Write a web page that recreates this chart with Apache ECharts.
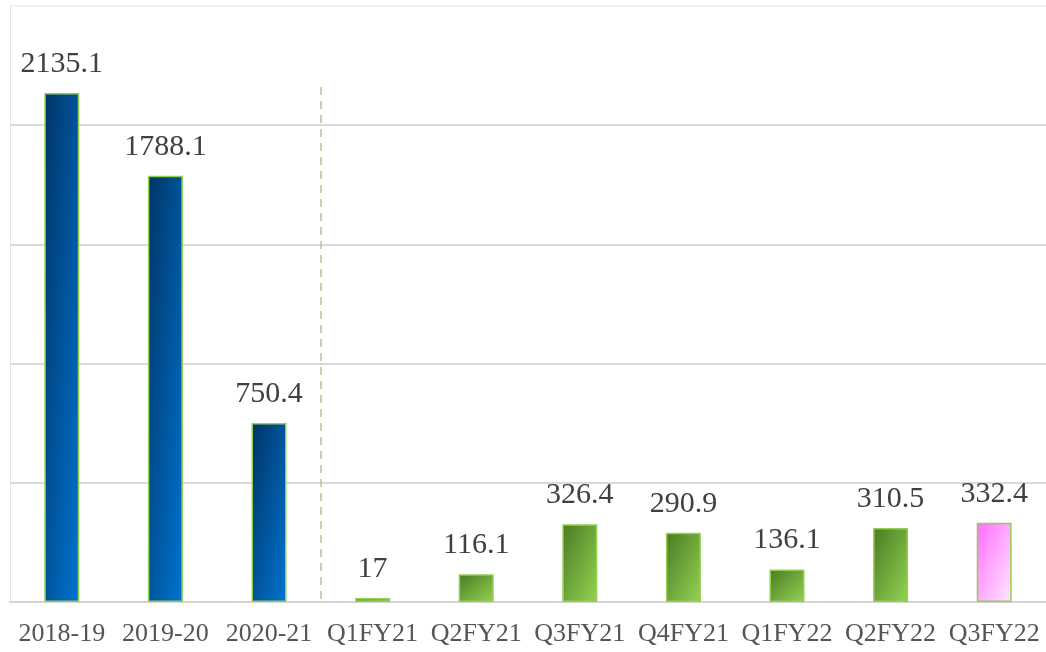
<!DOCTYPE html>
<html>
<head>
<meta charset="utf-8">
<script src="https://cdn.jsdelivr.net/npm/echarts@6/dist/echarts.min.js"></script>
<style>
  html, body { margin: 0; padding: 0; background: #fff; }
  #chart { width: 1046px; height: 652px; }
</style>
</head>
<body>
<div id="chart"></div>
<script>
var categories = ['2018-19', '2019-20', '2020-21', 'Q1FY21', 'Q2FY21', 'Q3FY21', 'Q4FY21', 'Q1FY22', 'Q2FY22', 'Q3FY22'];
var values = [2135.1, 1788.1, 750.4, 17, 116.1, 326.4, 290.9, 136.1, 310.5, 332.4];
var groups = ['year', 'year', 'year', 'qtr', 'qtr', 'qtr', 'qtr', 'qtr', 'qtr', 'latest'];

var palette = {
    year: ['#003466', '#0074d0'],
    qtr: ['#4a7a24', '#94d352'],
    latest: ['#ff6cff', '#ffe8ff']
};

var gridH = 596, yMax = 2500, barW = 35;

// excel style diagonal fill, scaled to the shape of each bar
function fillFor(v, g) {
    var h = Math.max(v * gridH / yMax, 1);
    var a = 2 / (1 / (barW * barW) + 1 / (h * h));
    return new echarts.graphic.LinearGradient(0, 0, a / (barW * barW), a / (h * h), [
        { offset: 0, color: palette[g][0] },
        { offset: 1, color: palette[g][1] }
    ]);
}

var chart = echarts.init(document.getElementById('chart'));
var option = {
    animation: false,
    grid: { left: 10, top: 6, width: 1039, height: gridH },
    xAxis: [{
        type: 'category',
        data: categories,
        axisLine: { lineStyle: { color: '#d4d4d4', width: 2 } },
        axisTick: { length: 7, lineStyle: { color: '#d4d4d4', width: 2 } },
        axisLabel: {
            interval: 0,
            hideOverlap: false,
            color: '#555555',
            fontFamily: 'Liberation Serif',
            fontSize: 26,
            margin: 19
        }
    }, {
        type: 'value',
        min: 0,
        max: 10,
        show: false
    }],
    yAxis: {
        type: 'value',
        min: 0,
        max: yMax,
        interval: 500,
        axisLabel: { show: false },
        axisTick: { show: false },
        axisLine: { show: true, lineStyle: { color: '#dce6f2', width: 1 } },
        splitLine: {
            lineStyle: {
                color: ['#d9d9d9', '#d9d9d9', '#d9d9d9', '#d9d9d9', '#d9d9d9', '#eef2f7'],
                width: 2
            }
        }
    },
    series: [{
        type: 'bar',
        barWidth: barW,
        data: values.map(function (v, i) {
            return { value: v, itemStyle: { color: fillFor(v, groups[i]) } };
        }),
        itemStyle: { borderColor: '#92d050', borderWidth: 1.5 },
        label: {
            show: true,
            position: 'top',
            distance: 14,
            color: '#404040',
            fontFamily: 'Liberation Serif',
            fontSize: 30
        }
    }, {
        type: 'scatter',
        xAxisIndex: 1,
        symbolSize: 0,
        data: [[3, 0]],
        silent: true,
        markLine: {
            symbol: 'none',
            silent: true,
            label: { show: false },
            lineStyle: { color: '#c4bd97', type: [8, 6], width: 1.5 },
            data: [[{ coord: [3, 2160] }, { coord: [3, 0] }]]
        }
    }]
};
chart.setOption(option);
</script>
</body>
</html>
